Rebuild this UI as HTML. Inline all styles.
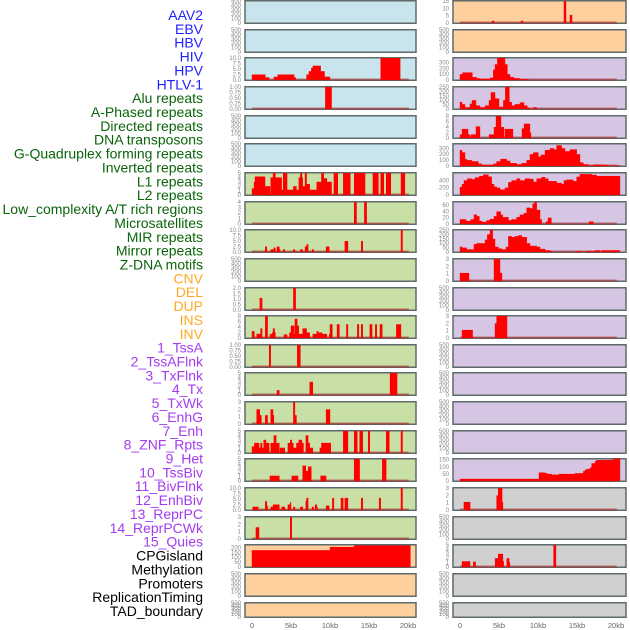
<!DOCTYPE html>
<html><head><meta charset="utf-8">
<style>
html,body{margin:0;padding:0;background:#fff;}
svg{display:block;font-family:"Liberation Sans",sans-serif;}
</style></head>
<body>
<svg id="chart" width="630" height="630" viewBox="0 0 630 630">
<g id="labels"></g>
<g id="panels"></g>
<g id="xaxis"></g>
</svg>
<script>
// ---- data ----
const featureNames = ["AAV2","EBV","HBV","HIV","HPV","HTLV-1","Alu repeats","A-Phased repeats","Directed repeats","DNA transposons","G-Quadruplex forming repeats","Inverted repeats","L1 repeats","L2 repeats","Low_complexity A/T rich regions","Microsatellites","MIR repeats","Mirror repeats","Z-DNA motifs","CNV","DEL","DUP","INS","INV","1_TssA","2_TssAFlnk","3_TxFlnk","4_Tx","5_TxWk","6_EnhG","7_Enh","8_ZNF_Rpts","9_Het","10_TssBiv","11_BivFlnk","12_EnhBiv","13_ReprPC","14_ReprPCWk","15_Quies","CPGisland","Methylation","Promoters","ReplicationTiming","TAD_boundary"];
const featureGroups = [0,0,0,0,0,0,1,1,1,1,1,1,1,1,1,1,1,1,1,2,2,2,2,2,3,3,3,3,3,3,3,3,3,3,3,3,3,3,3,4,4,4,4,4];
const groupColors = ["#1f1fff","#0a640a","#ffa826","#a33cf0","#000000"];
const xTickKb = [0,5,10,15,20];
const xTickLabels = ["0","5kb","10kb","15kb","20kb"];
const emptyTicks = [0,100,200,300,400,500];

// left column segments [startKb, endKb, value]
const L2 = [[0,1.7,2.5],[1.7,2.2,1.2],[2.8,3.3,1.5],[3.3,5.4,2.5],[5.4,5.6,1.2],[7.0,7.3,2.5],[7.3,7.6,4],[7.6,7.8,5.5],[7.8,8.8,6.5],[8.8,9.3,4],[9.3,10,1.5],[16.5,19.0,10]];
const L3 = [[9.4,10.2,1]];
const L6 = [[0,0.26,1.5],[0.26,0.38,3],[0.38,1.67,4.2],[1.67,2.31,2],[2.4,2.7,4],[2.7,3.0,5],[3.0,3.8,4],[3.8,4.0,1.2],[4.0,4.5,5],[4.5,5.3,1.2],[5.3,5.7,2],[5.7,6.0,1.2],[6.0,6.2,4],[6.2,6.4,5],[6.4,6.5,4],[6.5,6.8,2],[6.8,7.0,5],[7.0,7.4,2.5],[7.4,8.3,1.2],[8.3,8.9,3],[8.9,9.2,5],[9.2,9.6,3.8],[9.6,10.2,3],[10.5,11,5],[11.7,12.6,5],[13.1,14.5,5],[15.5,16.2,5],[16.5,16.9,5],[17.2,17.8,5],[19.1,19.6,5]];
const L7 = [[13.1,13.4,4],[14.4,14.7,4]];
const L8 = [[1.7,1.9,2.5],[2.4,2.8,1.2],[2.8,3.0,2],[3.2,3.5,2.5],[3.5,3.6,1.2],[4.0,4.2,1.2],[5.3,5.5,1.2],[6.2,6.5,1.2],[6.8,7.0,2.5],[7.0,7.2,3.5],[7.7,7.9,1.2],[9.5,9.9,2.5],[11.9,12.3,5],[14.0,14.2,5],[19.1,19.3,10]];
const L10 = [[1.0,1.3,1.1],[5.3,5.6,2]];
const L11 = [[0,0.3,2.5],[0.6,1.1,1.5],[1.1,1.3,3.5],[1.7,2.0,8],[2.3,2.6,1.5],[2.6,2.7,2],[2.7,2.9,3.5],[2.9,3.0,2],[4.1,4.5,1.3],[4.8,5.0,2],[5.0,5.4,4.5],[5.4,5.5,1.5],[5.5,5.8,7],[5.8,6.0,4.5],[6.0,6.5,1.5],[6.5,7.0,3.5],[7.0,7.4,2],[7.8,8.3,1.5],[8.3,8.5,2.5],[8.5,9.0,2],[9.0,9.6,1.5],[9.9,10.0,1.5],[10.0,10.3,5],[10.9,11.2,5],[12.1,12.3,5],[13.5,13.7,5],[14.0,14.2,5],[15.1,15.4,5],[15.8,16.0,5],[16.4,16.7,5],[18.5,19.1,5]];
const L12 = [[2.2,2.4,1],[5.8,6.2,1]];
const L13 = [[3.2,3.5,1.1],[7.4,7.8,3],[17.7,18.6,5]];
const L14 = [[0.6,1.0,2],[1.0,1.2,1.2],[1.7,2.0,1.2],[2.4,2.7,2],[2.7,2.8,1.2],[5.3,5.5,3],[5.5,5.7,1.2],[9.5,10.0,2]];
const L15 = [[0,0.3,1.5],[0.3,0.9,2.3],[0.9,1.1,1.2],[1.1,1.3,2.3],[1.3,1.5,1.2],[1.5,1.8,3],[1.8,2.2,2.3],[2.4,2.8,2.3],[2.8,3.1,4],[3.1,3.5,2.3],[3.6,4.2,1.2],[4.6,4.9,2.3],[4.9,5.1,3],[5.1,5.3,2.3],[5.3,5.7,1.2],[5.7,6.0,2.3],[6.0,6.4,3],[6.4,6.6,2.3],[6.9,7.2,4],[7.2,7.4,2.3],[7.4,7.8,1.2],[8.7,8.9,1.2],[8.9,9.5,2.3],[9.5,10.1,2.3],[11.7,12.3,5],[13.1,13.5,5],[13.8,14.2,5],[14.9,15.1,5],[17.2,17.6,5],[19.1,19.3,5]];
const L16 = [[2.3,3.5,1.2],[5.1,5.9,1.2],[6.5,6.9,3.5],[6.9,7.2,2.3],[7.2,7.6,3.3],[8.8,9.5,1.2],[13.1,13.3,5],[13.3,13.8,5],[16.7,17.2,5]];
const L17 = [[0.1,0.8,1.5],[1.7,1.9,4],[1.9,2.0,2],[2.4,2.7,1.5],[2.7,3.5,2.5],[3.8,4.2,1.5],[4.6,4.9,2.5],[4.9,5.0,3.5],[5.3,5.5,1.5],[6.2,6.5,1.5],[6.9,7.0,4.2],[7.0,7.2,5.5],[7.7,7.9,1.5],[8.1,8.3,2.5],[8.3,8.4,1.5],[9.5,9.9,2],[10.3,10.5,5.5],[11.4,11.7,5.5],[11.9,12.3,5.5],[14.0,14.2,5.5],[16.3,16.5,5.5],[19.1,19.3,10]];
const L18 = [[0.5,0.9,1.6],[4.9,5.1,3]];
const L19 = [[0,10,172],[10,13.1,205],[13.1,20.3,220]];

// right column segments
const R0 = [[4.1,4.36,1.5],[7.82,8.08,1.5],[13.33,13.59,15],[14.1,14.36,5.5]];
const R2 = [[0,0.34,100],[0.34,1.58,130],[1.58,2.14,50],[2.14,2.56,30],[2.56,3.85,20],[3.85,4.27,40],[4.27,4.49,180],[4.49,4.79,270],[4.79,5.77,378],[5.77,6.07,270],[6.07,6.41,100],[6.41,6.92,50],[6.92,7.69,30],[7.69,8.76,15]];
const R3 = [[0,0.26,80],[0.26,0.64,55],[0.64,1.28,20],[1.28,1.54,60],[1.54,2.05,100],[2.05,2.56,40],[2.56,3.21,20],[3.21,3.72,40],[3.72,3.97,100],[3.97,4.49,190],[4.49,5.0,120],[5.0,5.56,25],[5.56,5.81,100],[5.81,6.32,250],[6.32,6.62,80],[6.62,7.05,40],[7.05,7.69,55],[7.69,8.2,75],[8.2,8.63,40],[8.63,8.97,15],[9.4,9.83,20]];
const R4 = [[0,0.26,1.3],[0.26,1.03,3.3],[1.03,1.28,1.3],[1.41,2.05,1.3],[2.05,2.56,4.2],[3.72,4.36,1.3],[4.36,4.62,4],[4.62,5.26,8],[5.26,5.64,4],[5.77,6.79,3.3],[7.95,8.21,3.5],[8.21,8.97,5.2],[8.97,9.1,2]];
const R5 = [[0,0.26,270],[0.26,0.64,230],[0.64,0.85,120],[0.85,1.5,100],[1.5,2.35,80],[2.35,2.78,40],[2.78,4.27,20],[4.27,4.7,40],[4.7,5.21,80],[5.21,5.98,120],[5.98,6.41,90],[6.41,7.26,50],[7.26,7.91,30],[7.91,8.55,50],[8.55,8.97,100],[8.97,9.4,200],[9.4,10.04,230],[10.04,10.38,160],[10.38,10.9,190],[10.9,11.54,270],[11.54,12.05,300],[12.05,12.39,280],[12.39,13.03,350],[13.03,13.46,300],[13.46,14.1,250],[14.1,14.96,280],[14.96,15.38,200],[15.38,15.81,60],[15.81,16.45,30],[16.45,17.09,10],[17.09,18.38,25],[18.38,19.02,20],[19.02,19.66,5],[20.09,20.43,15]];
const R6 = [[0,0.26,220],[0.26,0.51,300],[0.51,0.94,400],[0.94,1.5,450],[1.5,1.92,430],[1.92,2.48,480],[2.48,2.99,520],[2.99,3.63,560],[3.63,4.06,500],[4.06,4.36,300],[4.36,4.7,230],[4.7,5.13,200],[5.13,5.77,150],[5.77,6.2,200],[6.2,6.62,350],[6.62,7.26,400],[7.26,7.69,450],[7.69,8.33,400],[8.33,8.97,450],[8.97,9.4,440],[9.4,9.83,360],[9.83,10.47,450],[10.47,10.9,490],[10.9,11.32,450],[11.32,12.39,380],[12.39,13.03,330],[13.03,13.33,300],[13.33,13.68,400],[13.68,14.53,420],[14.53,14.96,380],[14.96,15.38,500],[15.38,16.88,570],[16.88,17.52,550],[17.52,20.51,520]];
const R7 = [[0,0.77,15],[0.77,1.37,10],[1.37,1.79,15],[1.79,2.14,30],[2.14,2.48,25],[2.48,2.78,10],[2.78,3.42,7],[3.42,3.85,12],[3.85,4.36,16],[4.36,4.7,25],[4.7,5.21,40],[5.21,5.47,30],[5.47,6.2,22],[6.2,6.62,12],[6.62,7.26,15],[7.26,7.69,22],[7.69,8.21,30],[8.21,8.55,35],[8.55,8.97,52],[8.97,9.32,50],[9.32,9.57,65],[9.57,9.83,70],[9.83,10.26,45],[10.26,10.47,15],[11.03,11.28,8],[11.28,11.71,20],[16.54,17.09,8]];
const R8 = [[0,0.26,60],[0.26,0.85,50],[0.85,1.79,30],[1.79,2.14,90],[2.14,3.21,100],[3.21,3.5,140],[3.5,3.85,200],[3.85,4.19,250],[4.19,4.49,150],[4.49,4.91,60],[4.91,5.34,40],[5.34,5.9,30],[5.9,6.2,60],[6.2,6.62,180],[6.62,7.05,170],[7.05,7.48,180],[7.48,7.91,190],[7.91,8.55,170],[8.55,8.97,100],[8.97,9.83,70],[9.83,10.26,60],[10.26,10.9,35],[10.9,11.54,20],[11.54,11.75,10],[14.83,15.6,10],[16.24,17.09,12],[17.31,17.95,20],[18.16,20.51,20]];
const R9 = [[0,1.15,1.1],[4.36,5.13,3],[5.13,5.38,1.1]];
const R11 = [[0.26,1.62,1.1],[4.49,4.7,2],[4.7,6.03,3]];
const R16 = [[0,10.13,15],[10.13,10.9,60],[10.9,11.2,55],[11.2,11.75,50],[11.75,12.69,45],[12.69,14.74,50],[14.74,15.81,55],[15.81,16.03,70],[16.03,16.24,80],[16.24,16.67,85],[16.67,16.88,95],[16.88,17.31,125],[17.31,17.52,140],[17.52,19.44,148],[19.44,19.74,150],[19.74,20.51,158]];
const R17 = [[0.5,1.3,1.1],[4.7,4.9,2],[4.9,5.4,3],[5.4,5.5,1.1]];
const R19 = [[0.26,1.28,1.3],[1.7,2.0,1.2],[4.5,4.9,2],[4.9,5.5,3],[5.5,5.6,1.3],[6.0,6.3,2],[6.3,6.4,1],[12.0,12.3,5]];

// tick sets
const tk5 = [0,1,2,3,4,5], tk4=[0,1,2,3,4], tk3=[0,1,2,3], tk10=[0,2.5,5,7.5,10], tk1=[0,0.25,0.5,0.75,1], tk2=[0,0.5,1,1.5,2], tk8=[0,2,4,6,8];
// [segments, ymax, ticks, decimals]
const leftPanels = [
 [null,500,emptyTicks,0],[null,500,emptyTicks,0],[L2,10,tk10,1],[L3,1,tk1,2],[null,500,emptyTicks,0],[null,500,emptyTicks,0],
 [L6,5,tk5,0],[L7,4,tk4,0],[L8,10,tk10,1],[null,500,emptyTicks,0],[L10,2,tk2,1],[L11,8,tk8,0],[L12,1,tk1,2],
 [L13,5,tk5,0],[L14,3,tk3,0],[L15,5,tk5,0],[L16,5,tk5,0],[L17,10,tk10,1],[L18,3,tk3,0],
 [L19,225,[0,50,100,150,200],0],[null,500,emptyTicks,0],[null,500,emptyTicks,0]];
const rightPanels = [
 [R0,15,[0,5,10,15],0],[null,500,emptyTicks,0],[R2,378,[0,100,200,300],0],[R3,250,[0,50,100,150,200,250],0],
 [R4,8,tk8,0],[R5,372,[0,100,200,300],0],[R6,600,[0,200,400],0],[R7,70,[0,20,40,60],0],[R8,250,[0,50,100,150,200,250],0],
 [R9,3,tk3,0],[null,500,emptyTicks,0],[R11,3,tk3,0],[null,500,emptyTicks,0],[null,500,emptyTicks,0],[null,500,emptyTicks,0],[null,500,emptyTicks,0],
 [R16,155,[0,50,100,150],0],[R17,3,tk3,0],[null,500,emptyTicks,0],[R19,5,tk5,0],[null,500,emptyTicks,0],[null,500,emptyTicks,0]];
const leftBg = ["#c8e4ec","#c8e4ec","#c8e4ec","#c8e4ec","#c8e4ec","#c8e4ec","#c8e0a5","#c8e0a5","#c8e0a5","#c8e0a5","#c8e0a5","#c8e0a5","#c8e0a5","#c8e0a5","#c8e0a5","#c8e0a5","#c8e0a5","#c8e0a5","#c8e0a5","#fdd09e","#fdd09e","#fdd09e"];
const rightBg = ["#fdd09e","#fdd09e","#d6c6e3","#d6c6e3","#d6c6e3","#d6c6e3","#d6c6e3","#d6c6e3","#d6c6e3","#d6c6e3","#d6c6e3","#d6c6e3","#d6c6e3","#d6c6e3","#d6c6e3","#d6c6e3","#d6c6e3","#d0d0d0","#d0d0d0","#d0d0d0","#d0d0d0","#d0d0d0"];

// ---- rendering ----
const NS = "http://www.w3.org/2000/svg";
function mk(tag, attrs, parent){const e=document.createElementNS(NS,tag);for(const k in attrs)e.setAttribute(k,attrs[k]);parent.appendChild(e);return e;}
const labG = document.getElementById('labels');
featureNames.forEach((n,i)=>{
  const t = mk('text',{x:203,y:20+i*13.86,'text-anchor':'end','font-size':'14',fill:groupColors[featureGroups[i]]},labG);
  t.textContent = n;
  
  
});
const panG = document.getElementById('panels');
const cols = [{x0:245,x1:416,z:252,p:leftPanels,bg:leftBg,tx:241,name:'left'},{x0:453,x1:626,z:460,p:rightPanels,bg:rightBg,tx:449,name:'right'}];
const pxPerKb = 7.8;
cols.forEach(c=>{
  const xs = kb => c.z + kb*pxPerKb;
  c.p.forEach((pd,i)=>{
    const top = Math.round(i*28.65);
    const h = i===21 ? 16 : 24;
    const base = top + h - 1, span = h - 2;
    const ys = v => base - v/pd[1]*span;
    const g = mk('g',{},panG);
    
    
    const r = mk('rect',{x:c.x0,y:top+0.75,width:c.x1-c.x0,height:h-1.5,fill:c.bg[i],stroke:'#5f6a6a','stroke-width':1.5},g);
    
    
    pd[2].forEach(tv=>{
      const t = mk('text',{x:c.tx,y:ys(tv)+2,'text-anchor':'end','font-size':'6',fill:'#888'},g);
      t.textContent = tv.toFixed(pd[3]);
      
      
    });
    if(pd[0]){
      const bl = mk('line',{x1:xs(0),x2:xs(20.1),y1:base-0.5,y2:base-0.5,stroke:'rgba(170,30,30,0.55)','stroke-width':2},g);
      
      
      pd[0].forEach(s=>{
        const b = mk('rect',{x:xs(s[0])-0.2,y:ys(s[2]),width:Math.max(0.8,xs(s[1])-xs(s[0]))+0.4,height:base-ys(s[2]),fill:'#ff0000'},g);
        
        
      });
    }
  });
  const axG = document.getElementById('xaxis');
  xTickKb.forEach((k,j)=>{
    const t = mk('text',{x:xs(k),y:628,'text-anchor':'middle','font-size':'7.5',fill:'#666'},axG);
    t.textContent = xTickLabels[j];
    
    
  });
});
</script>
</body></html>
